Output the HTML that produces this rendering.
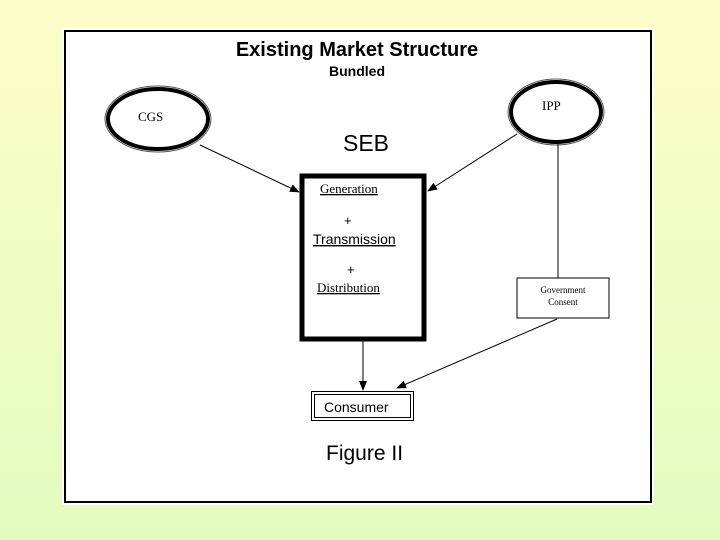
<html><head><style>body{margin:0;width:720px;height:540px;overflow:hidden;background:linear-gradient(#fdfdc8,#e2fcc0);}</style></head><body>
<svg width="720" height="540" style="position:absolute;left:0;top:0" font-family="Liberation Sans, sans-serif">
<defs><marker id="a" markerWidth="10" markerHeight="10" refX="9" refY="5" orient="auto" markerUnits="userSpaceOnUse"><path d="M0,1 L10,5 L0,9z" fill="#000"/></marker></defs>
<rect x="62" y="28" width="592" height="477" fill="#fff"/>
<rect x="65" y="31" width="586" height="471" fill="none" stroke="#000" stroke-width="2"/>
<text x="357" y="56" font-size="20" font-weight="bold" text-anchor="middle">Existing Market Structure</text>
<text x="357" y="76" font-size="14" font-weight="bold" text-anchor="middle">Bundled</text>
<text x="366" y="151" font-size="23" text-anchor="middle">SEB</text>
<ellipse cx="158" cy="119" rx="50" ry="30" fill="#fff" stroke="#000" stroke-width="4"/>
<ellipse cx="158" cy="119" rx="53" ry="33" fill="none" stroke="#555" stroke-width="1"/>
<text x="138" y="121" font-size="13" font-family="Liberation Serif, serif">CGS</text>
<ellipse cx="556" cy="112" rx="45" ry="30" fill="#fff" stroke="#000" stroke-width="4"/>
<ellipse cx="556" cy="112" rx="48" ry="33" fill="none" stroke="#555" stroke-width="1"/>
<text x="542" y="110" font-size="13" font-family="Liberation Serif, serif">IPP</text>
<line x1="200" y1="145" x2="299" y2="192" stroke="#000" marker-end="url(#a)"/>
<line x1="517" y1="134" x2="428" y2="191" stroke="#000" marker-end="url(#a)"/>
<line x1="558" y1="143" x2="558" y2="278" stroke="#000"/>
<rect x="302" y="176" width="122" height="163" fill="#fff" stroke="#000" stroke-width="5"/>
<g font-size="13" text-decoration="underline">
<text x="320" y="193" font-family="Liberation Serif, serif">Generation</text>
<text x="313" y="244" font-size="14">Transmission</text>
<text x="317" y="292" font-family="Liberation Serif, serif">Distribution</text>
</g>
<text x="344" y="225" font-size="13">+</text>
<text x="347" y="274" font-size="13">+</text>
<rect x="517" y="278" width="92" height="40" fill="#fff" stroke="#000"/>
<text x="563" y="293" font-size="9" text-anchor="middle" font-family="Liberation Serif, serif">Government</text>
<text x="563" y="305" font-size="9" text-anchor="middle" font-family="Liberation Serif, serif">Consent</text>
<line x1="363" y1="341" x2="363" y2="390" stroke="#000" marker-end="url(#a)"/>
<line x1="557" y1="319" x2="397" y2="388" stroke="#000" marker-end="url(#a)"/>
<rect x="311.5" y="391.5" width="102" height="29" fill="#fff" stroke="#000"/>
<rect x="314.5" y="394.5" width="96" height="23" fill="none" stroke="#000"/>
<text x="324" y="412" font-size="14">Consumer</text>
<text x="326" y="460" font-size="21">Figure II</text>
</svg></body></html>
